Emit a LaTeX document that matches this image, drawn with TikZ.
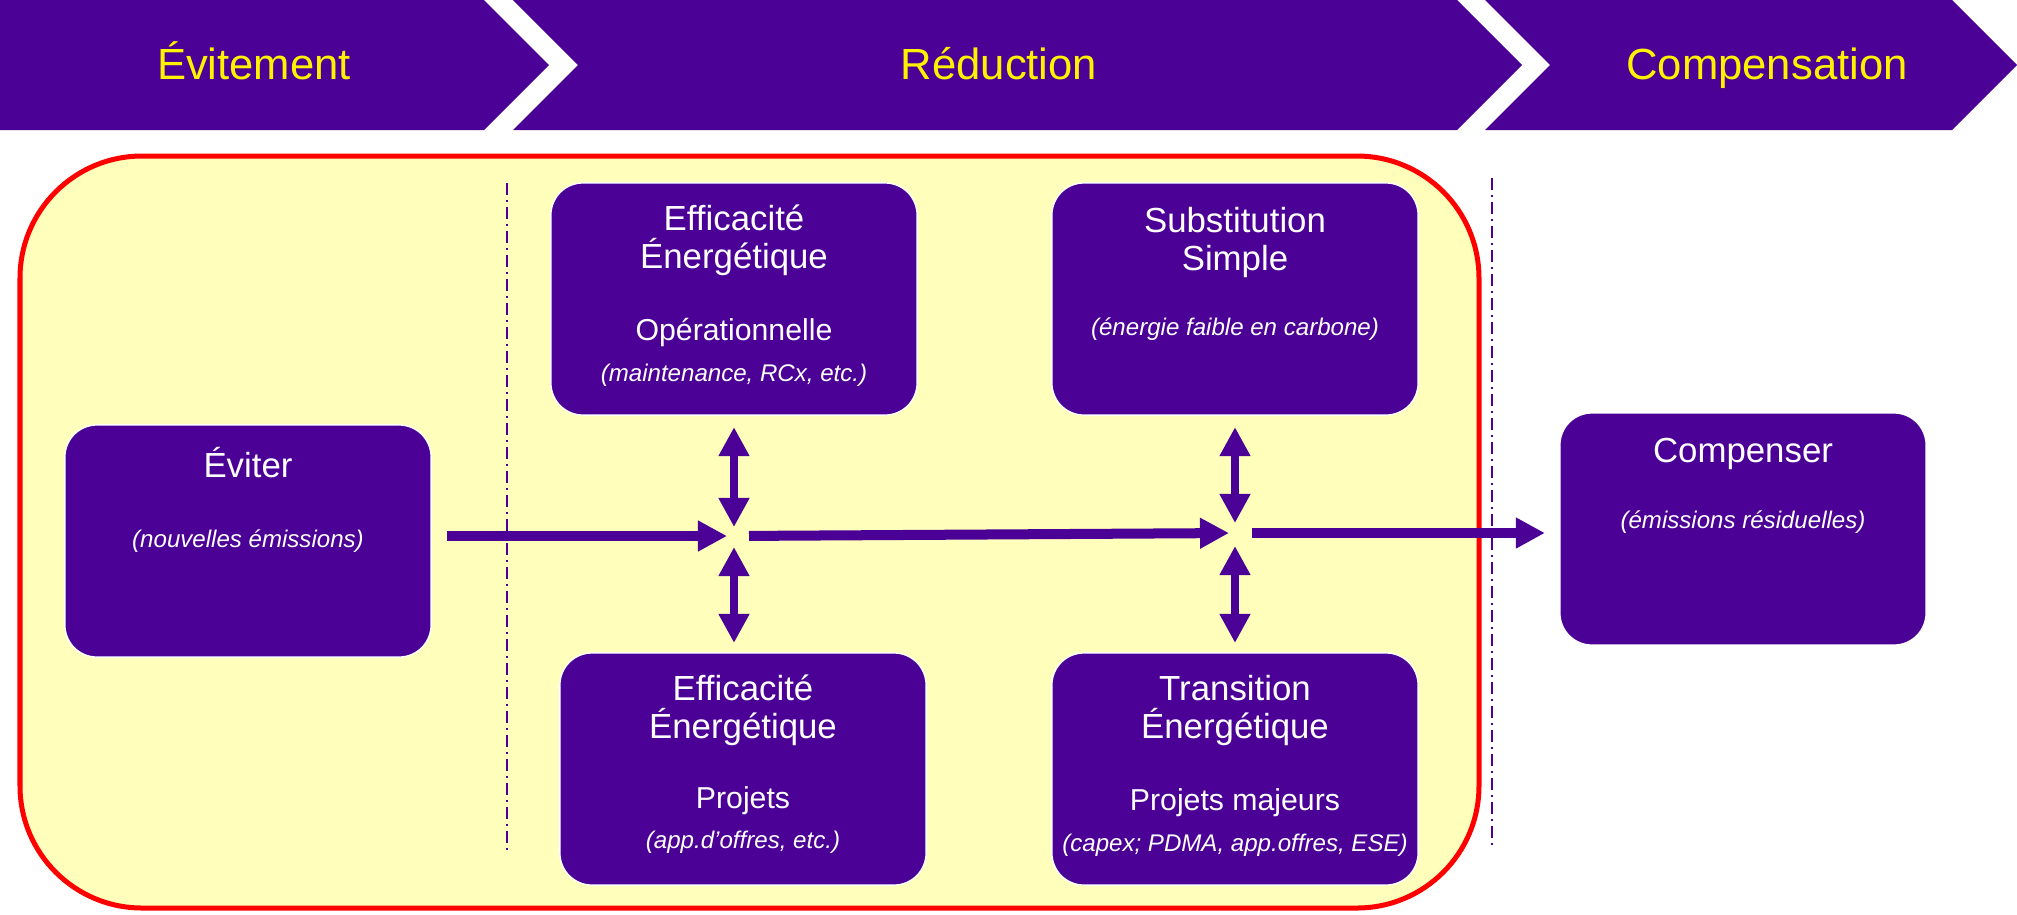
\documentclass[tikz,border=0pt]{standalone}
\usepackage{fontspec}
\setmainfont{Liberation Sans}
\usepackage{tikz}
\usetikzlibrary{positioning,arrows.meta}
\definecolor{deepviolet}{HTML}{4B0096}
\definecolor{paleyellow}{HTML}{FFFFBB}

\begin{document}
\begin{tikzpicture}[x=0.01cm,y=-0.01cm]
    \tikzset{box/.style={draw=white,line width=0.4pt,fill=deepviolet,rounded corners=0.32cm,minimum width=3.66cm,minimum height=2.32cm,inner sep=0pt,outer sep=0pt},
      ttl/.style={text=white,align=center,inner sep=0pt,font=\fontsize{9.9}{10.8}\selectfont},
      subt/.style={text=white,inner sep=0pt,anchor=base,font=\fontsize{8.6}{10}\selectfont},
      note/.style={text=white,inner sep=0pt,anchor=base,font=\fontsize{6.85}{8}\selectfont\itshape},
      phase/.style={text=yellow,inner sep=0pt,anchor=base,font=\fontsize{12.4}{14}\selectfont},
      flow/.style={deepviolet,line width=0.1cm,-{Triangle[length=0.29cm,width=0.29cm]}},
      twoway/.style={deepviolet,line width=0.085cm,{Triangle[length=0.29cm,width=0.29cm]}-{Triangle[length=0.29cm,width=0.29cm]}},
      divider/.style={deepviolet,line width=0.025cm,dash pattern=on 0.12cm off 0.05cm on 0.02cm off 0.05cm}}
    \useasboundingbox (0,0) rectangle (2017,914);
    % bandeau
    \fill[deepviolet] (0,0) -- (484,0) -- (549,65) -- (484,130) -- (0,130) -- cycle;
    \fill[deepviolet] (513,0) -- (1457,0) -- (1522,65) -- (1457,130) -- (513,130) -- (578,65) -- cycle;
    \fill[deepviolet] (1485,0) -- (1952,0) -- (2017,65) -- (1952,130) -- (1485,130) -- (1550,65) -- cycle;
    \node[phase] (evitement) at (254,79) {Évitement};
    \node[phase] (reduction) at (999,79) {Réduction};
    \node[phase] (compensation) at (1767,79) {Compensation};
    % zone
    \draw[red,line width=0.05cm,fill=paleyellow,rounded corners=1.22cm] (20,156) rectangle (1479,908);
    \draw[divider] (507,183) -- (507,855);
    \draw[divider] (1492,178) -- (1492,849);
    % boites
    \node[box] (evit) at (248,541) {};
    \node[box] (op) at (734,299) {};
    \node[box] (subs) at (1235,299) {};
    \node[box] (proj) at (743,769) {};
    \node[box] (trans) at (1235,769) {};
    \node[box] (comp) at (1743,529) {};
    \node[subt,font=\fontsize{9.9}{10.8}\selectfont] (evitT) at ([yshift=-0.53cm]evit.north) {Éviter};
    \node[note] (evitN) at ([yshift=-1.22cm]evit.north) {(nouvelles émissions)};
    \node[ttl,below=0.217cm of op.north] (opT) {Efficacité\\Énergétique};
    \node[subt] (opS) at ([yshift=-1.57cm]op.north) {Opérationnelle};
    \node[note] (opN) at ([yshift=-1.98cm]op.north) {(maintenance, RCx, etc.)};
    \node[ttl,below=0.237cm of subs.north] (subsT) {Substitution\\Simple};
    \node[note] (subsN) at ([yshift=-1.52cm]subs.north) {(énergie faible en carbone)};
    \node[ttl,below=0.217cm of proj.north] (projT) {Efficacité\\Énergétique};
    \node[subt] (projS) at ([yshift=-1.55cm]proj.north) {Projets};
    \node[note] (projN) at ([yshift=-1.95cm]proj.north) {(app.d’offres, etc.)};
    \node[ttl,below=0.217cm of trans.north] (transT) {Transition\\Énergétique};
    \node[subt] (transS) at ([yshift=-1.57cm]trans.north) {Projets majeurs};
    \node[note] (transN) at ([yshift=-1.98cm]trans.north) {(capex; PDMA, app.offres, ESE)};
    \node[subt,font=\fontsize{9.9}{10.8}\selectfont] (compT) at ([yshift=-0.50cm]comp.north) {Compenser};
    \node[note] (compN) at ([yshift=-1.15cm]comp.north) {(émissions résiduelles)};
    % fleches
    \coordinate (j1) at (734,536);
    \coordinate (j2) at (1235,533);
    \draw[flow,shorten <=0.16cm,shorten >=0.07cm] (evit.east |- j1) -- (j1);
    \draw[flow,shorten <=0.15cm,shorten >=0.06cm] (j1) -- (j2);
    \draw[flow,shorten <=0.17cm,shorten >=0.15cm] (j2) -- (comp.west |- j2);
    \draw[twoway,shorten <=0.12cm,shorten >=0.09cm] (op.south) -- (j1);
    \draw[twoway,shorten <=0.11cm,shorten >=0.10cm] (j1) -- (j1 |- proj.north);
    \draw[twoway,shorten <=0.12cm,shorten >=0.10cm] (subs.south) -- (j2);
    \draw[twoway,shorten <=0.13cm,shorten >=0.10cm] (j2) -- (trans.north);
\end{tikzpicture}
\end{document}
